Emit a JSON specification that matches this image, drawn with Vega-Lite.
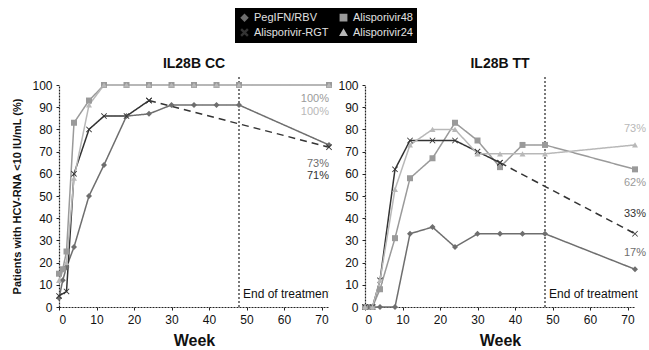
{
  "$schema": "https://vega.github.io/schema/vega-lite/v6.json",
  "background": "white",
  "padding": {"left": 11, "top": 8, "right": 2, "bottom": 2},
  "config": {
    "font": "Liberation Sans",
    "view": {"stroke": null},
    "axis": {"grid": false, "domainColor": "#222", "domainWidth": 1.2, "domainDash": [2, 1], "tickColor": "#222", "tickSize": 3, "labelPadding": 4, "labelFontSize": 12, "labelColor": "#111", "titleColor": "#111"},
    "title": {"fontSize": 14, "fontWeight": "bold", "color": "#111", "offset": 5},
    "concat": {"spacing": 5},
    "legend": {"title": null, "orient": "none", "legendX": 176, "legendY": -77, "columns": 2, "fillColor": "black", "labelColor": "#e0e0e0", "labelFontSize": 11, "padding": 4, "rowPadding": 2, "columnPadding": 8, "symbolSize": 40}
  },
  "datasets": {
    "lines": [
      {"panel": "CC", "series": "PegIFN/RBV", "seg": "solid", "week": 0, "pct": 4},
      {"panel": "CC", "series": "PegIFN/RBV", "seg": "solid", "week": 1, "pct": 12},
      {"panel": "CC", "series": "PegIFN/RBV", "seg": "solid", "week": 2, "pct": 18},
      {"panel": "CC", "series": "PegIFN/RBV", "seg": "solid", "week": 4, "pct": 27},
      {"panel": "CC", "series": "PegIFN/RBV", "seg": "solid", "week": 8, "pct": 50},
      {"panel": "CC", "series": "PegIFN/RBV", "seg": "solid", "week": 12, "pct": 64},
      {"panel": "CC", "series": "PegIFN/RBV", "seg": "solid", "week": 18, "pct": 86},
      {"panel": "CC", "series": "PegIFN/RBV", "seg": "solid", "week": 24, "pct": 87},
      {"panel": "CC", "series": "PegIFN/RBV", "seg": "solid", "week": 30, "pct": 91},
      {"panel": "CC", "series": "PegIFN/RBV", "seg": "solid", "week": 36, "pct": 91},
      {"panel": "CC", "series": "PegIFN/RBV", "seg": "solid", "week": 42, "pct": 91},
      {"panel": "CC", "series": "PegIFN/RBV", "seg": "solid", "week": 48, "pct": 91},
      {"panel": "CC", "series": "PegIFN/RBV", "seg": "solid", "week": 72, "pct": 73},
      {"panel": "CC", "series": "Alisporivir48", "seg": "solid", "week": 0, "pct": 15},
      {"panel": "CC", "series": "Alisporivir48", "seg": "solid", "week": 1, "pct": 17},
      {"panel": "CC", "series": "Alisporivir48", "seg": "solid", "week": 2, "pct": 25},
      {"panel": "CC", "series": "Alisporivir48", "seg": "solid", "week": 4, "pct": 83},
      {"panel": "CC", "series": "Alisporivir48", "seg": "solid", "week": 8, "pct": 93},
      {"panel": "CC", "series": "Alisporivir48", "seg": "solid", "week": 12, "pct": 100},
      {"panel": "CC", "series": "Alisporivir48", "seg": "solid", "week": 18, "pct": 100},
      {"panel": "CC", "series": "Alisporivir48", "seg": "solid", "week": 24, "pct": 100},
      {"panel": "CC", "series": "Alisporivir48", "seg": "solid", "week": 30, "pct": 100},
      {"panel": "CC", "series": "Alisporivir48", "seg": "solid", "week": 36, "pct": 100},
      {"panel": "CC", "series": "Alisporivir48", "seg": "solid", "week": 42, "pct": 100},
      {"panel": "CC", "series": "Alisporivir48", "seg": "solid", "week": 48, "pct": 100},
      {"panel": "CC", "series": "Alisporivir48", "seg": "solid", "week": 72, "pct": 100},
      {"panel": "CC", "series": "Alisporivir-RGT", "seg": "solid", "week": 0, "pct": 5},
      {"panel": "CC", "series": "Alisporivir-RGT", "seg": "solid", "week": 2, "pct": 7},
      {"panel": "CC", "series": "Alisporivir-RGT", "seg": "solid", "week": 4, "pct": 60},
      {"panel": "CC", "series": "Alisporivir-RGT", "seg": "solid", "week": 8, "pct": 80},
      {"panel": "CC", "series": "Alisporivir-RGT", "seg": "solid", "week": 12, "pct": 86},
      {"panel": "CC", "series": "Alisporivir-RGT", "seg": "solid", "week": 18, "pct": 86},
      {"panel": "CC", "series": "Alisporivir-RGT", "seg": "solid", "week": 24, "pct": 93},
      {"panel": "CC", "series": "Alisporivir-RGT", "seg": "dashed", "week": 24, "pct": 93},
      {"panel": "CC", "series": "Alisporivir-RGT", "seg": "dashed", "week": 72, "pct": 72},
      {"panel": "CC", "series": "Alisporivir24", "seg": "solid", "week": 0, "pct": 12},
      {"panel": "CC", "series": "Alisporivir24", "seg": "solid", "week": 2, "pct": 20},
      {"panel": "CC", "series": "Alisporivir24", "seg": "solid", "week": 4, "pct": 58},
      {"panel": "CC", "series": "Alisporivir24", "seg": "solid", "week": 8, "pct": 91},
      {"panel": "CC", "series": "Alisporivir24", "seg": "solid", "week": 12, "pct": 100},
      {"panel": "CC", "series": "Alisporivir24", "seg": "solid", "week": 18, "pct": 100},
      {"panel": "CC", "series": "Alisporivir24", "seg": "solid", "week": 24, "pct": 100},
      {"panel": "CC", "series": "Alisporivir24", "seg": "solid", "week": 30, "pct": 100},
      {"panel": "CC", "series": "Alisporivir24", "seg": "solid", "week": 36, "pct": 100},
      {"panel": "CC", "series": "Alisporivir24", "seg": "solid", "week": 42, "pct": 100},
      {"panel": "CC", "series": "Alisporivir24", "seg": "solid", "week": 48, "pct": 100},
      {"panel": "CC", "series": "Alisporivir24", "seg": "solid", "week": 72, "pct": 100},

      {"panel": "TT", "series": "PegIFN/RBV", "seg": "solid", "week": 0, "pct": 0},
      {"panel": "TT", "series": "PegIFN/RBV", "seg": "solid", "week": 1, "pct": 0},
      {"panel": "TT", "series": "PegIFN/RBV", "seg": "solid", "week": 2, "pct": 0},
      {"panel": "TT", "series": "PegIFN/RBV", "seg": "solid", "week": 4, "pct": 0},
      {"panel": "TT", "series": "PegIFN/RBV", "seg": "solid", "week": 8, "pct": 0},
      {"panel": "TT", "series": "PegIFN/RBV", "seg": "solid", "week": 12, "pct": 33},
      {"panel": "TT", "series": "PegIFN/RBV", "seg": "solid", "week": 18, "pct": 36},
      {"panel": "TT", "series": "PegIFN/RBV", "seg": "solid", "week": 24, "pct": 27},
      {"panel": "TT", "series": "PegIFN/RBV", "seg": "solid", "week": 30, "pct": 33},
      {"panel": "TT", "series": "PegIFN/RBV", "seg": "solid", "week": 36, "pct": 33},
      {"panel": "TT", "series": "PegIFN/RBV", "seg": "solid", "week": 42, "pct": 33},
      {"panel": "TT", "series": "PegIFN/RBV", "seg": "solid", "week": 48, "pct": 33},
      {"panel": "TT", "series": "PegIFN/RBV", "seg": "solid", "week": 72, "pct": 17},
      {"panel": "TT", "series": "Alisporivir48", "seg": "solid", "week": 0, "pct": 0},
      {"panel": "TT", "series": "Alisporivir48", "seg": "solid", "week": 2, "pct": 0},
      {"panel": "TT", "series": "Alisporivir48", "seg": "solid", "week": 4, "pct": 8},
      {"panel": "TT", "series": "Alisporivir48", "seg": "solid", "week": 8, "pct": 31},
      {"panel": "TT", "series": "Alisporivir48", "seg": "solid", "week": 12, "pct": 58},
      {"panel": "TT", "series": "Alisporivir48", "seg": "solid", "week": 18, "pct": 67},
      {"panel": "TT", "series": "Alisporivir48", "seg": "solid", "week": 24, "pct": 83},
      {"panel": "TT", "series": "Alisporivir48", "seg": "solid", "week": 30, "pct": 75},
      {"panel": "TT", "series": "Alisporivir48", "seg": "solid", "week": 36, "pct": 63},
      {"panel": "TT", "series": "Alisporivir48", "seg": "solid", "week": 42, "pct": 73},
      {"panel": "TT", "series": "Alisporivir48", "seg": "solid", "week": 48, "pct": 73},
      {"panel": "TT", "series": "Alisporivir48", "seg": "solid", "week": 72, "pct": 62},
      {"panel": "TT", "series": "Alisporivir-RGT", "seg": "solid", "week": 0, "pct": 0},
      {"panel": "TT", "series": "Alisporivir-RGT", "seg": "solid", "week": 2, "pct": 0},
      {"panel": "TT", "series": "Alisporivir-RGT", "seg": "solid", "week": 4, "pct": 12},
      {"panel": "TT", "series": "Alisporivir-RGT", "seg": "solid", "week": 8, "pct": 62},
      {"panel": "TT", "series": "Alisporivir-RGT", "seg": "solid", "week": 12, "pct": 75},
      {"panel": "TT", "series": "Alisporivir-RGT", "seg": "solid", "week": 18, "pct": 75},
      {"panel": "TT", "series": "Alisporivir-RGT", "seg": "solid", "week": 24, "pct": 75},
      {"panel": "TT", "series": "Alisporivir-RGT", "seg": "solid", "week": 30, "pct": 70},
      {"panel": "TT", "series": "Alisporivir-RGT", "seg": "solid", "week": 36, "pct": 65},
      {"panel": "TT", "series": "Alisporivir-RGT", "seg": "dashed", "week": 36, "pct": 65},
      {"panel": "TT", "series": "Alisporivir-RGT", "seg": "dashed", "week": 72, "pct": 33},
      {"panel": "TT", "series": "Alisporivir24", "seg": "solid", "week": 0, "pct": 0},
      {"panel": "TT", "series": "Alisporivir24", "seg": "solid", "week": 2, "pct": 0},
      {"panel": "TT", "series": "Alisporivir24", "seg": "solid", "week": 4, "pct": 12},
      {"panel": "TT", "series": "Alisporivir24", "seg": "solid", "week": 8, "pct": 53},
      {"panel": "TT", "series": "Alisporivir24", "seg": "solid", "week": 12, "pct": 73},
      {"panel": "TT", "series": "Alisporivir24", "seg": "solid", "week": 18, "pct": 80},
      {"panel": "TT", "series": "Alisporivir24", "seg": "solid", "week": 24, "pct": 80},
      {"panel": "TT", "series": "Alisporivir24", "seg": "solid", "week": 30, "pct": 69},
      {"panel": "TT", "series": "Alisporivir24", "seg": "solid", "week": 36, "pct": 69},
      {"panel": "TT", "series": "Alisporivir24", "seg": "solid", "week": 42, "pct": 69},
      {"panel": "TT", "series": "Alisporivir24", "seg": "solid", "week": 48, "pct": 69},
      {"panel": "TT", "series": "Alisporivir24", "seg": "solid", "week": 72, "pct": 73}
    ],
    "labels": [
      {"panel": "CC", "series": "Alisporivir48", "week": 72, "pct": 93.5, "label": "100%"},
      {"panel": "CC", "series": "Alisporivir24", "week": 72, "pct": 88, "label": "100%"},
      {"panel": "CC", "series": "PegIFN/RBV", "week": 72, "pct": 64.5, "label": "73%"},
      {"panel": "CC", "series": "Alisporivir-RGT", "week": 72, "pct": 59, "label": "71%"},
      {"panel": "TT", "series": "Alisporivir24", "week": 72, "pct": 80, "label": "73%"},
      {"panel": "TT", "series": "Alisporivir48", "week": 72, "pct": 56, "label": "62%"},
      {"panel": "TT", "series": "Alisporivir-RGT", "week": 72, "pct": 42, "label": "33%"},
      {"panel": "TT", "series": "PegIFN/RBV", "week": 72, "pct": 24.5, "label": "17%"}
    ],
    "eot": [{"week": 48, "pct": 6, "label": "End of treatment"}]
  },
  "resolve": {"scale": {"color": "shared", "shape": "shared", "strokeDash": "shared"}},
  "hconcat": [
    {
      "width": 270,
      "height": 222,
      "title": "IL28B CC",
      "encoding": {
        "x": {"field": "week", "type": "quantitative", "scale": {"domain": [0, 72], "nice": false}, "axis": {"values": [0, 10, 20, 30, 40, 50, 60, 70], "title": "Week", "titleFontSize": 16, "titleFontWeight": "bold", "titlePadding": 7}},
        "y": {"field": "pct", "type": "quantitative", "scale": {"domain": [0, 100], "nice": false}, "axis": {"values": [0, 10, 20, 30, 40, 50, 60, 70, 80, 90, 100], "title": "Patients with HCV-RNA <10 IU/mL (%)", "titleFontSize": 11, "titleFontWeight": "bold", "titlePadding": 9}}
      },
      "layer": [
        {
          "data": {"name": "eot"},
          "mark": {"type": "rule", "color": "#222", "strokeWidth": 1.2, "strokeDash": [2, 2]},
          "encoding": {"y": {"datum": 0}, "y2": {"datum": 104}}
        },
        {
          "data": {"name": "eot"},
          "mark": {"type": "text", "align": "left", "baseline": "middle", "dx": 4, "fontSize": 12, "color": "#111", "clip": true},
          "encoding": {"text": {"field": "label"}}
        },
        {
          "data": {"name": "lines"},
          "transform": [{"filter": "datum.panel === 'CC'"}],
          "mark": {"type": "line", "strokeWidth": 1.5},
          "encoding": {
            "color": {"field": "series", "type": "nominal", "scale": {"domain": ["PegIFN/RBV", "Alisporivir-RGT", "Alisporivir48", "Alisporivir24"], "range": ["#6e6e6e", "#333333", "#9a9a9a", "#b8b8b8"]}},
            "strokeDash": {"field": "seg", "type": "nominal", "scale": {"domain": ["solid", "dashed"], "range": [[1, 0], [7, 5]]}, "legend": null},
            "detail": {"field": "seg"}
          }
        },
        {
          "data": {"name": "lines"},
          "transform": [{"filter": "datum.panel === 'CC'"}],
          "mark": {"type": "point", "filled": true, "size": 36, "opacity": 1},
          "encoding": {
            "color": {"field": "series", "type": "nominal", "scale": {"domain": ["PegIFN/RBV", "Alisporivir-RGT", "Alisporivir48", "Alisporivir24"], "range": ["#6e6e6e", "#333333", "#9a9a9a", "#b8b8b8"]}},
            "shape": {"field": "series", "type": "nominal", "scale": {"domain": ["PegIFN/RBV", "Alisporivir-RGT", "Alisporivir48", "Alisporivir24"], "range": ["diamond", "M-1,-0.8L-0.8,-1L0,-0.2L0.8,-1L1,-0.8L0.2,0L1,0.8L0.8,1L0,0.2L-0.8,1L-1,0.8L-0.2,0Z", "square", "triangle-up"]}}
          }
        },
        {
          "data": {"name": "labels"},
          "transform": [{"filter": "datum.panel === 'CC'"}],
          "mark": {"type": "text", "align": "right", "baseline": "middle", "fontSize": 11},
          "encoding": {
            "text": {"field": "label"},
            "color": {"field": "series", "type": "nominal", "scale": {"domain": ["PegIFN/RBV", "Alisporivir-RGT", "Alisporivir48", "Alisporivir24"], "range": ["#6e6e6e", "#333333", "#9a9a9a", "#b8b8b8"]}}
          }
        }
      ]
    },
    {
      "width": 270,
      "height": 222,
      "title": "IL28B TT",
      "encoding": {
        "x": {"field": "week", "type": "quantitative", "scale": {"domain": [0, 72], "nice": false}, "axis": {"values": [0, 10, 20, 30, 40, 50, 60, 70], "title": "Week", "titleFontSize": 16, "titleFontWeight": "bold", "titlePadding": 7}},
        "y": {"field": "pct", "type": "quantitative", "scale": {"domain": [0, 100], "nice": false}, "axis": {"values": [0, 10, 20, 30, 40, 50, 60, 70, 80, 90, 100], "title": null}}
      },
      "layer": [
        {
          "data": {"name": "eot"},
          "mark": {"type": "rule", "color": "#222", "strokeWidth": 1.2, "strokeDash": [2, 2]},
          "encoding": {"y": {"datum": 0}, "y2": {"datum": 104}}
        },
        {
          "data": {"name": "eot"},
          "mark": {"type": "text", "align": "left", "baseline": "middle", "dx": 4, "fontSize": 12, "color": "#111"},
          "encoding": {"text": {"field": "label"}}
        },
        {
          "data": {"name": "lines"},
          "transform": [{"filter": "datum.panel === 'TT'"}],
          "mark": {"type": "line", "strokeWidth": 1.5},
          "encoding": {
            "color": {"field": "series", "type": "nominal", "scale": {"domain": ["PegIFN/RBV", "Alisporivir-RGT", "Alisporivir48", "Alisporivir24"], "range": ["#6e6e6e", "#333333", "#9a9a9a", "#b8b8b8"]}},
            "strokeDash": {"field": "seg", "type": "nominal", "scale": {"domain": ["solid", "dashed"], "range": [[1, 0], [7, 5]]}, "legend": null},
            "detail": {"field": "seg"}
          }
        },
        {
          "data": {"name": "lines"},
          "transform": [{"filter": "datum.panel === 'TT'"}],
          "mark": {"type": "point", "filled": true, "size": 36, "opacity": 1},
          "encoding": {
            "color": {"field": "series", "type": "nominal", "scale": {"domain": ["PegIFN/RBV", "Alisporivir-RGT", "Alisporivir48", "Alisporivir24"], "range": ["#6e6e6e", "#333333", "#9a9a9a", "#b8b8b8"]}},
            "shape": {"field": "series", "type": "nominal", "scale": {"domain": ["PegIFN/RBV", "Alisporivir-RGT", "Alisporivir48", "Alisporivir24"], "range": ["diamond", "M-1,-0.8L-0.8,-1L0,-0.2L0.8,-1L1,-0.8L0.2,0L1,0.8L0.8,1L0,0.2L-0.8,1L-1,0.8L-0.2,0Z", "square", "triangle-up"]}}
          }
        },
        {
          "data": {"name": "labels"},
          "transform": [{"filter": "datum.panel === 'TT'"}],
          "mark": {"type": "text", "align": "right", "baseline": "middle", "fontSize": 11, "dx": 11},
          "encoding": {
            "text": {"field": "label"},
            "color": {"field": "series", "type": "nominal", "scale": {"domain": ["PegIFN/RBV", "Alisporivir-RGT", "Alisporivir48", "Alisporivir24"], "range": ["#6e6e6e", "#333333", "#9a9a9a", "#b8b8b8"]}}
          }
        }
      ]
    }
  ]
}
